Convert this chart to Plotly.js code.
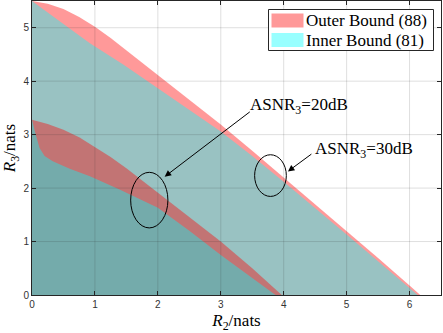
<!DOCTYPE html>
<html>
<head>
<meta charset="utf-8">
<script src="https://cdn.plot.ly/plotly-3.0.1.min.js"></script>
<style>
  html, body { margin: 0; padding: 0; background: #fff; }
  #chart { width: 443px; height: 333px; }
</style>
</head>
<body>
<div id="chart"></div>
<script>
const config = {
    responsive: false,
    displayModeBar: false,
    staticPlot: true
}

// ASNR3 = 30dB, outer bound (88)
const r2Outer30 = [0, 0.25, 0.5, 0.75, 1, 1.25, 1.5, 1.75, 2, 2.5, 3, 3.5, 4, 4.5, 5, 5.5, 6, 6.17];
const r3Outer30 = [5.5, 5.45, 5.35, 5.2, 5.02, 4.81, 4.58, 4.35, 4.12, 3.65, 3.19, 2.7, 2.2, 1.7, 1.19, 0.69, 0.18, 0];

// ASNR3 = 30dB, inner bound (81)
const r2Inner30 = [0, 0.5, 0.92, 1.45, 2, 2.5, 3, 3.5, 4, 5, 6, 6.13];
const r3Inner30 = [5.5, 5.07, 4.71, 4.31, 3.87, 3.47, 3.06, 2.6, 2.12, 1.13, 0.14, 0];

// ASNR3 = 20dB, outer bound
const r2Outer20 = [0, 0.25, 0.5, 0.75, 1, 1.25, 1.5, 1.75, 2, 2.5, 3, 3.5, 3.97];
const r3Outer20 = [3.28, 3.2, 3.09, 2.95, 2.77, 2.58, 2.37, 2.14, 1.91, 1.46, 1.0, 0.5, 0];

// ASNR3 = 20dB, inner bound
const r2Inner20 = [0, 0.06, 0.12, 0.2, 0.33, 0.6, 0.92, 1.4, 2, 2.5, 3, 3.5, 3.87];
const r3Inner20 = [3.28, 3.0, 2.75, 2.6, 2.5, 2.36, 2.22, 1.97, 1.63, 1.2, 0.75, 0.32, 0];

const legendNames = ['Outer Bound (88)', 'Inner Bound (81)'];
const labels = ['ASNR<sub>3</sub>=20dB', 'ASNR<sub>3</sub>=30dB'];
const xTicks = [0, 1, 2, 3, 4, 5, 6];
const yTicks = [0, 1, 2, 3, 4, 5];

// elipses: [cx, cy, rx, ry]
const elipse20 = [1.864, 1.775, 0.296, 0.52];
const elipse30 = [3.79, 2.234, 0.252, 0.39];

// setas: [x da ponta, y da ponta, x da cauda, y da cauda]
const seta20 = [2.108, 2.213, 3.485, 3.447];
const seta30 = [4.067, 2.312, 4.464, 2.656];

const red = 'rgba(255,0,0,0.4)';
const cyan = 'rgba(0,255,255,0.4)';
const serif = 'Liberation Serif';

// área do gráfico em pixels (para a legenda desenhada à mão)
const W = 443, H = 333;
const margem = { l: 32, r: 2, t: 1, b: 38 };
const px = v => (v - margem.l) / (W - margem.l - margem.r);
const py = v => (H - margem.b - v) / (H - margem.t - margem.b);

// Fecha a região pela origem
function regiao(xs, ys, cor) {
    return {
        x: [0].concat(xs),
        y: [0].concat(ys),
        type: 'scatter',
        mode: 'lines',
        fill: 'toself',
        fillcolor: cor,
        line: { width: 0, color: cor },
        showlegend: false,
        hoverinfo: 'skip'
    }
}

const dados = [
    regiao(r2Outer30, r3Outer30, red),
    regiao(r2Inner30, r3Inner30, cyan),
    regiao(r2Outer20, r3Outer20, red),
    regiao(r2Inner20, r3Inner20, cyan)
];

// Grade por cima das áreas, como no original
const shapes = [];
xTicks.slice(1).forEach(t => {
    shapes.push({ type: 'line', xref: 'x', yref: 'paper', x0: t, x1: t, y0: 0, y1: 1,
        line: { color: 'rgba(38,38,38,0.15)', width: 1 }, layer: 'above' });
});
yTicks.slice(1).forEach(t => {
    shapes.push({ type: 'line', xref: 'paper', yref: 'y', x0: 0, x1: 1, y0: t, y1: t,
        line: { color: 'rgba(38,38,38,0.15)', width: 1 }, layer: 'above' });
});
[elipse20, elipse30].forEach(e => {
    shapes.push({ type: 'circle', xref: 'x', yref: 'y',
        x0: e[0] - e[2], x1: e[0] + e[2], y0: e[1] - e[3], y1: e[1] + e[3],
        line: { color: '#000', width: 1 }, layer: 'above' });
});

const annotations = [];
[seta20, seta30].forEach(s => {
    annotations.push({ x: s[0], y: s[1], ax: s[2], ay: s[3], axref: 'x', ayref: 'y',
        text: '', showarrow: true, arrowhead: 2, arrowsize: 1.3, arrowwidth: 1, arrowcolor: '#000' });
});
annotations.push({ x: seta20[2], y: seta20[3], xanchor: 'left', yanchor: 'bottom', yshift: -8, xshift: -3,
    text: labels[0], showarrow: false, font: { family: serif, size: 17, color: '#000' } });
annotations.push({ x: seta30[2], y: seta30[3], xanchor: 'left', yanchor: 'bottom', yshift: -10, xshift: 0,
    text: labels[1], showarrow: false, font: { family: serif, size: 17, color: '#000' } });

// Legenda no canto superior direito
shapes.push({ type: 'rect', xref: 'paper', yref: 'paper',
    x0: px(268.5), x1: px(433.5), y0: py(50.5), y1: py(9.5),
    fillcolor: '#fff', line: { color: '#262626', width: 1 }, layer: 'above' });
[[13.5, 27.5, red], [33, 47, cyan]].forEach((s, i) => {
    shapes.push({ type: 'rect', xref: 'paper', yref: 'paper',
        x0: px(271.5), x1: px(303.5), y0: py(s[1]), y1: py(s[0]),
        fillcolor: s[2], line: { width: 0 }, layer: 'above' });
    annotations.push({ xref: 'paper', yref: 'paper', x: px(304), y: py((s[0] + s[1]) / 2 + 0.5),
        xanchor: 'left', yanchor: 'middle', text: legendNames[i], showarrow: false,
        font: { family: serif, size: 17, color: '#000' } });
});

const eixo = {
    showline: true,
    mirror: 'ticks',
    linecolor: '#262626',
    linewidth: 1,
    ticks: 'inside',
    ticklen: 4,
    tickcolor: '#262626',
    showgrid: false,
    zeroline: false,
    layer: 'above traces',
    tickfont: { family: 'Liberation Sans', size: 10, color: '#333' }
};

const layout = {
    width: W,
    height: H,
    margin: margem,
    paper_bgcolor: '#fff',
    plot_bgcolor: '#fff',
    font: { family: serif },
    showlegend: false,
    xaxis: Object.assign({}, eixo, {
        range: [0, 6.5],
        tickvals: xTicks,
        title: { text: '<i>R</i><sub>2</sub>/nats', font: { family: serif, size: 17, color: '#000' }, standoff: 8 }
    }),
    yaxis: Object.assign({}, eixo, {
        range: [0, 5.5],
        tickvals: yTicks,
        title: { text: '<i>R</i><sub>3</sub>/nats', font: { family: serif, size: 17, color: '#000' }, standoff: 6 }
    }),
    shapes: shapes,
    annotations: annotations
};

Plotly.newPlot('chart', dados, layout, config);
</script>
</body>
</html>
